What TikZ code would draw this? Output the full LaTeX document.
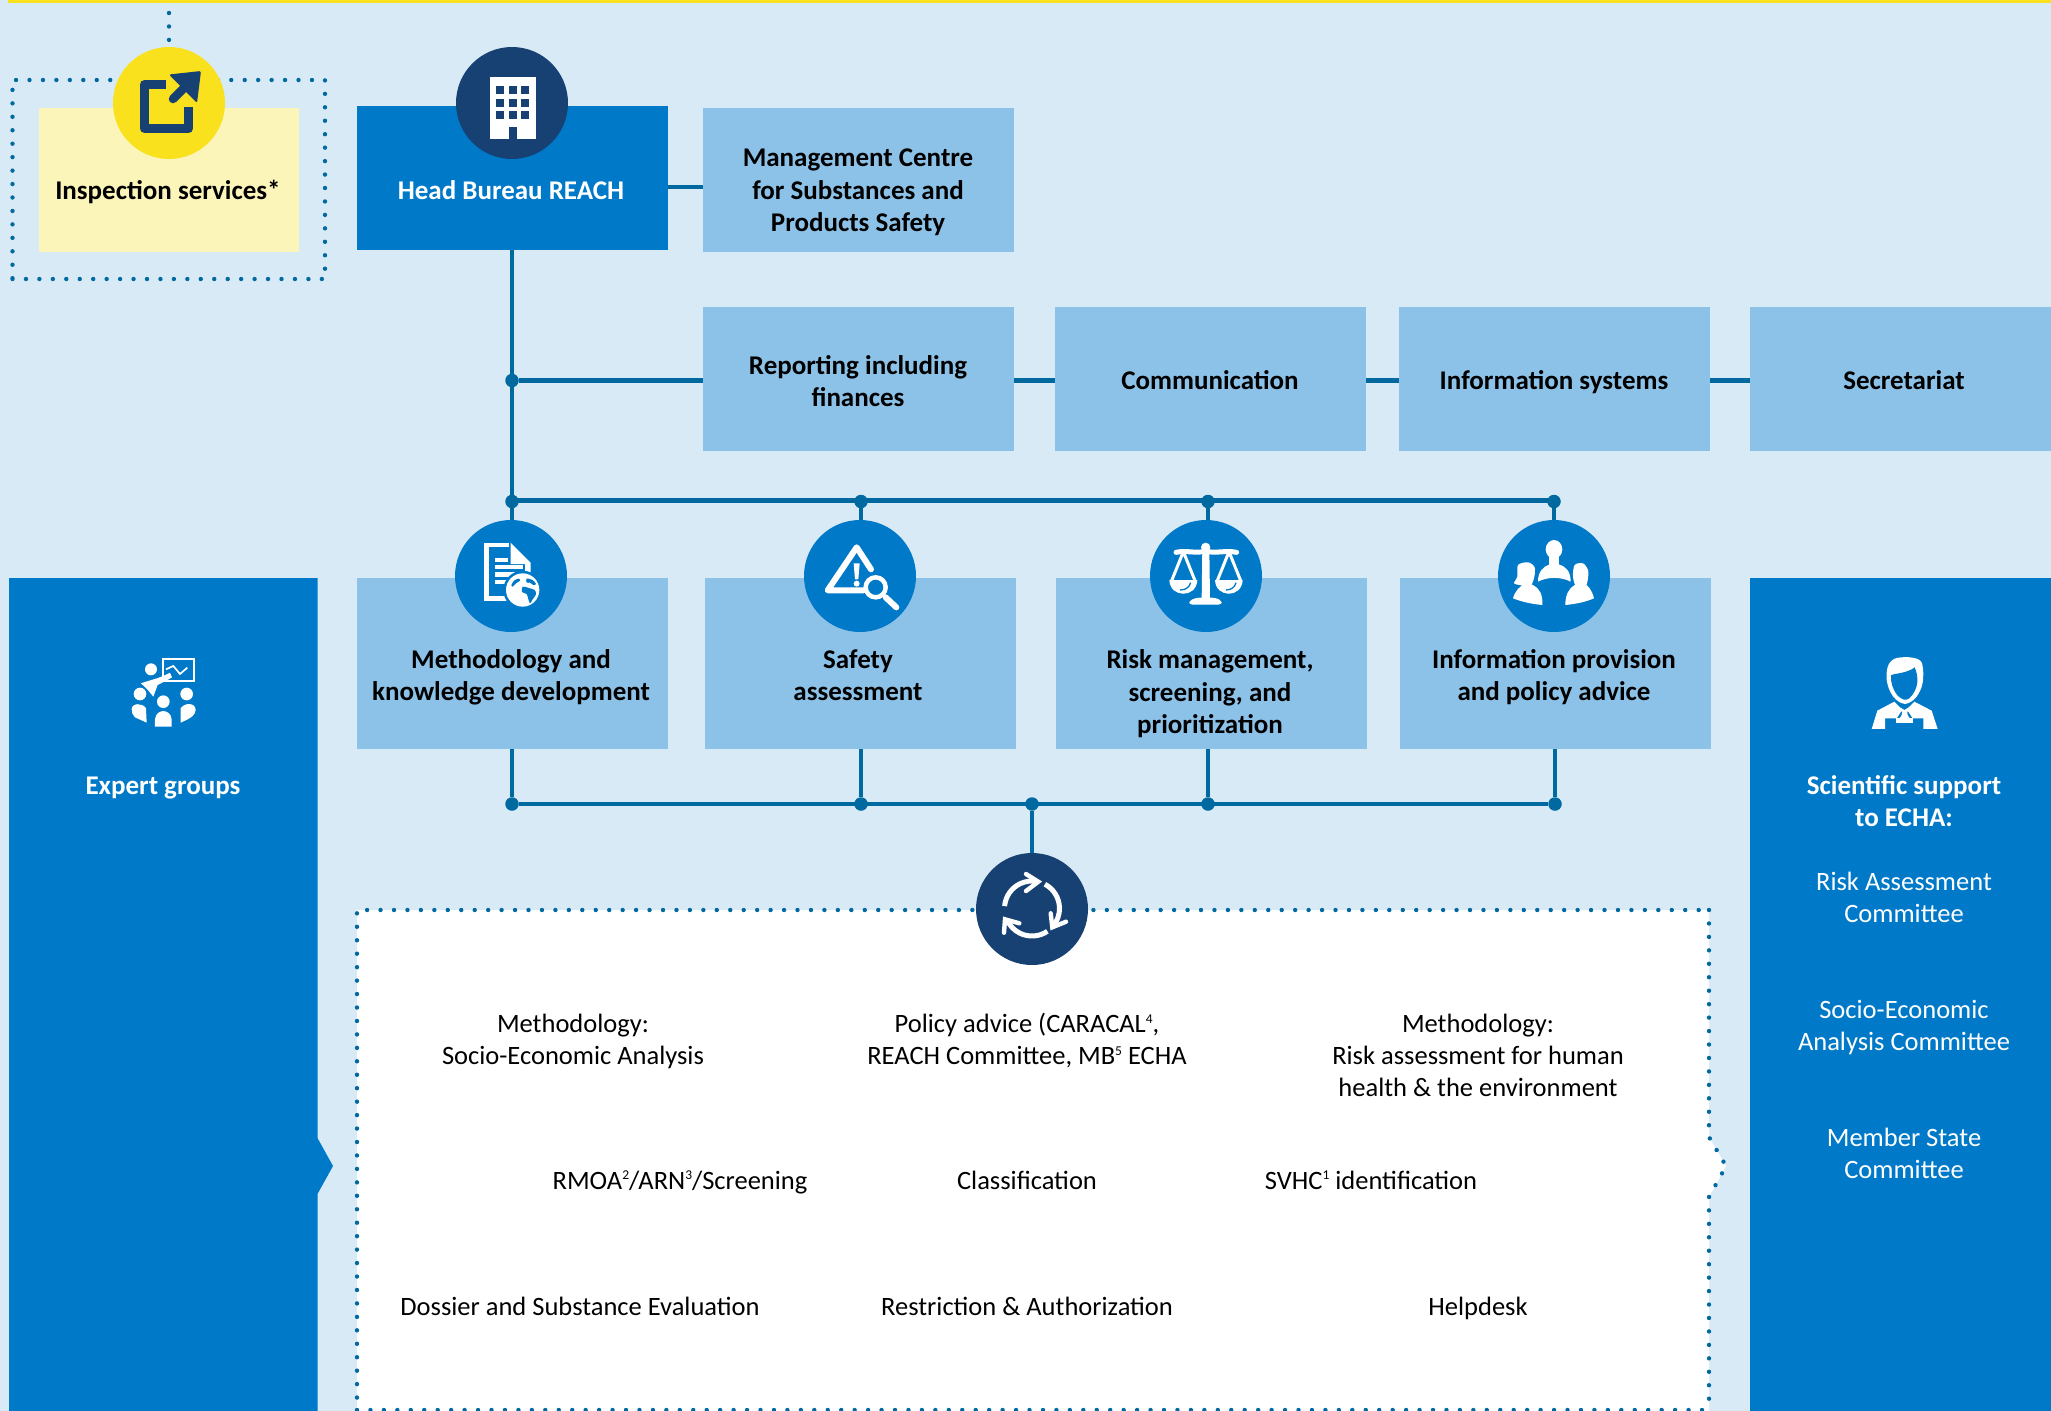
\documentclass[tikz,border=0pt]{standalone}
\usepackage{fontspec}
\setmainfont{Carlito}
\definecolor{bgblue}{HTML}{D9EAF7}
\definecolor{midblue}{HTML}{0079C8}
\definecolor{lightblue}{HTML}{8DC2E8}
\definecolor{navy}{HTML}{164172}
\definecolor{linkblue}{HTML}{00699F}
\definecolor{yel}{HTML}{F9E11E}
\definecolor{paleyel}{HTML}{FCF5B9}
\newcommand\suptxt[1]{\raisebox{9.5pt}{\fontsize{13.5}{13.5}\selectfont #1}}
\tikzset{
  boxnode/.style={rectangle,draw=none,inner sep=0pt,outer sep=0pt},
  lightbox/.style={boxnode,fill=lightblue},
  bold label/.style={inner sep=0pt,align=center,text=black,font=\fontsize{27}{32.3}\selectfont\bfseries,execute at begin node={\strut},execute at end node={\strut}},
  bold white/.style={bold label,text=white},
  plain label/.style={inner sep=0pt,align=center,text=black,font=\fontsize{26.5}{32}\selectfont,execute at begin node={\strut},execute at end node={\strut}},
  plain white/.style={plain label,text=white},
  bigdisc/.style={circle,inner sep=0pt,outer sep=0pt,minimum size=112pt},
  junction/.style={circle,fill=linkblue,inner sep=0pt,outer sep=0pt,minimum size=13.5pt},
  link/.style={draw=linkblue,line width=4.6pt},
  dotline/.style={draw=linkblue,line width=4.4pt,line cap=round,dash pattern=on 0pt off 13.45pt},
  iconscope/.style={x=0.3333pt,y=-0.3333pt}
}
\begin{document}
\begin{tikzpicture}[x=1pt,y=-1pt]
\useasboundingbox (0,0) rectangle (2051,1411);
\fill[bgblue] (0,0) rectangle (2051,1411);
\fill[yel] (8,0) rectangle (2051,3);

% side panels
\fill[midblue] (9,578) -- (317.5,578) -- (317.5,1138) -- (333,1166) -- (317.5,1194) -- (317.5,1411) -- (9,1411) -- cycle;
\fill[midblue] (1750,578) rectangle (2051,1411);

% white dotted area
\fill[white] (357,910) -- (1709,910) -- (1709,1137) -- (1726,1166) -- (1709,1197) -- (1709,1411) -- (357,1411) -- cycle;
\draw[dotline] (1709,910) -- (1709,1137) -- (1726,1166) -- (1709,1197) -- (1709,1411);
\draw[dotline] (357,1411) -- (357,910) -- (1709,910);
\draw[dotline] (357,1410) -- (1709,1410);

% inspection dotted frame
\node[boxnode,draw=linkblue,line width=4.4pt,line cap=round,dash pattern=on 0pt off 13.45pt,minimum width=312.5pt,minimum height=199pt] (inspframe) at (168.75,179.5) {};

% boxes
\node[boxnode,fill=paleyel,minimum width=260pt,minimum height=144pt] (insp) at (169,180) {};
\node[boxnode,fill=midblue,minimum width=311pt,minimum height=144pt] (head) at (512.5,178) {};
\node[lightbox,minimum width=311pt,minimum height=144pt] (mgmt) at (858,180) {};
\node[lightbox,minimum width=311pt,minimum height=144pt] (report) at (858,379) {};
\node[lightbox,minimum width=311pt,minimum height=144pt] (comm) at (1210.5,379) {};
\node[lightbox,minimum width=311pt,minimum height=144pt] (infosys) at (1554,379) {};
\node[lightbox,minimum width=301pt,minimum height=144pt] (secr) at (1900.5,379) {};
\node[lightbox,minimum width=311pt,minimum height=171pt] (meth) at (512.5,663.5) {};
\node[lightbox,minimum width=311pt,minimum height=171pt] (safety) at (860.5,663.5) {};
\node[lightbox,minimum width=311pt,minimum height=171pt] (risk) at (1211.5,663.5) {};
\node[lightbox,minimum width=311pt,minimum height=171pt] (provis) at (1555.5,663.5) {};

% junctions and discs (positions)
\node[junction] (jr) at (512,380.5) {};
\node[junction] (j1) at (512,501.5) {};
\node[junction] (j2) at (861,501.5) {};
\node[junction] (j3) at (1208,501.5) {};
\node[junction] (j4) at (1554,501.5) {};
\node[junction] (k1) at (512,804) {};
\node[junction] (k2) at (861,804) {};
\node[junction] (k3) at (1208,804) {};
\node[junction] (k4) at (1555,804) {};
\node[junction] (kc) at (1032,804) {};
\coordinate (hm) at (685,187);
\coordinate (topfree) at (169,13);
\coordinate (rowline) at (900,500.5);

\node[bigdisc] (dinsp) at (169,103) {};
\node[bigdisc] (dhead) at (512,103) {};
\node[bigdisc] (d1) at (511,576) {};
\node[bigdisc] (d2) at (860,576) {};
\node[bigdisc] (d3) at (1206,576) {};
\node[bigdisc] (d4) at (1554,576) {};
\node[bigdisc] (dc) at (1032,909) {};

% connectors
\draw[dotline] (topfree) -- (dinsp.north);
\draw[link] (head.east |- hm) -- (mgmt.west |- hm);
\draw[link] (head.south -| j1) -- (j1);
\draw[link] (jr) -- (report.west |- jr);
\draw[link] (report.east |- jr) -- (comm.west |- jr);
\draw[link] (comm.east |- jr) -- (infosys.west |- jr);
\draw[link] (infosys.east |- jr) -- (secr.west |- jr);
\draw[link] (j1 |- rowline) -- (j4 |- rowline);
\draw[link] (j1) -- (d1.north -| j1);
\draw[link] (j2) -- (d2.north -| j2);
\draw[link] (j3) -- (d3.north -| j3);
\draw[link] (j4) -- (d4.north);
\draw[link] (meth.south -| k1) -- (k1);
\draw[link] (safety.south -| k2) -- (k2);
\draw[link] (risk.south -| k3) -- (k3);
\draw[link] (provis.south -| k4) -- (k4);
\draw[link] (k1) -- (k4);
\draw[link] (kc) -- (dc.north);

% filled discs above connectors
\fill[yel] (dinsp) circle (56);
\fill[navy] (dhead) circle (56);
\fill[midblue] (d1) circle (56);
\fill[midblue] (d2) circle (56);
\fill[midblue] (d3) circle (56);
\fill[midblue] (d4) circle (56);
\fill[navy] (dc) circle (56);

% --- icons ---
% export icon
\draw[navy,line width=9pt,line join=round] (166,84.5) -- (144.5,84.5) -- (144.5,128.5) -- (188.5,128.5) -- (188.5,107);
\draw[navy,line width=8.5pt,line cap=round] (173,99) -- (190,82);
\fill[navy,rounded corners=2pt] (169,74.5) -- (201,71) -- (197,103) -- cycle;

% building icon
\fill[white] (490,77) rectangle (536,139);
\foreach \wx in {496.4,509,521.4}
  \foreach \wy in {86,98.7,111}
    \fill[navy] (\wx,\wy) rectangle ++(8,8);
\fill[navy] (509,127) rectangle (517,139);

% document + globe
\begin{scope}[shift={(470,530)},iconscope]
\draw[white,line width=4.5pt,line join=miter] (118,45) -- (49,45) -- (49,205) -- (115,205);
\fill[white] (122,38) -- (182,98) -- (182,130) -- (165,130) -- (165,102) -- (122,102) -- cycle;
\fill[white] (75,85) rectangle (115,97);
\fill[white] (75,105) rectangle (160,118);
\fill[white] (75,127) rectangle (140,140);
\fill[white] (75,150) rectangle (115,162);
\fill[midblue] (158,180) circle (58);
\fill[white] (158,180) circle (50);
\fill[midblue] plot[smooth cycle] coordinates {(158,170) (176,174) (194,180) (198,193) (188,208) (180,220) (174,204) (170,192) (156,186)};
\fill[midblue] plot[smooth cycle] coordinates {(170,146) (188,150) (198,162) (190,165) (180,158) (170,158)};
\fill[midblue] plot[smooth cycle] coordinates {(132,152) (146,146) (150,152) (138,160) (128,170) (124,166)};
\end{scope}

% warning + magnifier
\begin{scope}[shift={(815,530)},iconscope]
\draw[white,line width=6pt,line join=round,line cap=round] (145,181) -- (38,181) -- (125,52) -- (168,118);
\fill[white] (116,100) -- (134,100) -- (130,148) -- (120,148) -- cycle;
\fill[white] (125,161) circle (9);
\draw[white,line width=4.5pt] (182,172) circle (30);
\draw[white,line width=6pt,line cap=round] (212,202) -- (244,232);
\end{scope}

% scales
\begin{scope}[shift={(1160,530)},iconscope]
\fill[white] (127,55) -- (148,55) -- (150,205) -- (125,205) -- cycle;
\fill[white] (137,52) circle (14);
\fill[white,rounded corners=3pt] (88,224) -- (88,212) -- (110,203) -- (165,203) -- (185,212) -- (185,224) -- cycle;
\draw[white,line width=5pt,line cap=round] (48,67) .. controls (80,60) and (110,72) .. (137,63) .. controls (165,72) and (195,60) .. (230,67);
\draw[white,line width=3pt,line join=round] (35,152) -- (70,65) -- (105,152);
\draw[white,line width=3pt,line join=round] (172,152) -- (207,65) -- (242,152);
\fill[white] (28,150) .. controls (30,205) and (110,205) .. (112,150) -- cycle;
\fill[white] (165,150) .. controls (167,205) and (246,205) .. (248,150) -- cycle;
\draw[midblue,line width=1.3pt] (60,180) .. controls (80,180) and (88,170) .. (92,158);
\draw[midblue,line width=1.3pt] (198,180) .. controls (215,180) and (225,170) .. (228,158);
\end{scope}

% three people
\begin{scope}[shift={(1508,530)},iconscope]
\fill[white] (138,58) ellipse (25 and 28);
\fill[white] (122,75) rectangle (154,110);
\fill[white] (90,155) .. controls (90,125) and (105,110) .. (125,103) -- (152,103) .. controls (175,110) and (188,125) .. (188,155) .. controls (160,140) and (118,140) .. (90,155) -- cycle;
\fill[white] plot[smooth cycle] coordinates {(30,105) (60,97) (80,112) (78,145) (65,170) (35,165) (18,160) (28,140)};
\fill[white] (15,205) .. controls (22,180) and (40,165) .. (55,158) -- (75,165) .. controls (95,175) and (105,195) .. (103,225) .. controls (70,222) and (40,215) .. (15,205) -- cycle;
\fill[white] plot[smooth cycle] coordinates {(200,105) (225,100) (240,120) (240,145) (232,170) (205,170) (195,140)};
\fill[white] (258,205) .. controls (252,180) and (240,165) .. (225,158) -- (200,165) .. controls (182,175) and (172,195) .. (172,225) .. controls (205,222) and (235,215) .. (258,205) -- cycle;
\end{scope}

% presenter + group
\begin{scope}[shift={(90,630)},iconscope]
\draw[white,line width=1.7pt] (220,87) rectangle (312,153);
\draw[white,line width=1.7pt] (228,118) -- (250,108) -- (270,132) -- (292,113);
\fill[white] (183,118) circle (18);
\fill[white] (153,160) .. controls (180,150) and (210,145) .. (240,128) -- (246,142) .. controls (225,155) and (212,160) .. (203,165) -- (190,200) -- (172,178) -- cycle;
\fill[white] (150,192) circle (19);
\fill[white] (220,215) circle (19);
\fill[white] (290,192) circle (19);
\fill[white] (125,238) .. controls (125,218) and (158,218) .. (168,235) -- (170,278) -- (135,262) .. controls (128,255) and (125,248) .. (125,238) -- cycle;
\fill[white] (195,290) -- (195,268) .. controls (198,235) and (242,235) .. (245,268) -- (245,290) -- cycle;
\fill[white] (272,235) .. controls (285,216) and (317,218) .. (317,240) .. controls (315,255) and (308,262) .. (272,278) -- cycle;
\end{scope}

% scientist
\begin{scope}[shift={(1840,630)},iconscope]
\fill[white] (140,150) .. controls (137,110) and (148,90) .. (170,84) .. controls (200,78) and (242,82) .. (246,100) .. controls (252,125) and (250,140) .. (248,158) .. controls (242,190) and (222,218) .. (195,222) .. controls (168,218) and (146,190) .. (140,150) -- cycle;
\fill[midblue] (153,135) .. controls (170,130) and (205,128) .. (224,112) .. controls (236,140) and (238,175) .. (208,205) .. controls (197,214) and (185,208) .. (173,197) .. controls (158,178) and (151,155) .. (153,135) -- cycle;
\fill[white] (95,297) -- (112,242) -- (163,215) -- (180,232) -- (193,240) -- (206,232) -- (223,215) -- (275,242) -- (293,297) -- (250,297) -- (250,265) -- (218,265) -- (205,245) -- (183,245) -- (170,265) -- (135,265) -- (135,297) -- cycle;
\fill[white] (168,265) -- (220,265) -- (220,278) -- (168,278) -- cycle;
\fill[white] (187,242) -- (201,242) -- (203,255) -- (212,270) -- (176,270) -- (185,255) -- cycle;
\end{scope}

% recycle
\begin{scope}
\draw[white,line width=5pt] (1032,908.5) ++(185:27.5) arc[start angle=185,end angle=281,radius=27.5];
\draw[white,line width=5pt] (1032,908.5) ++(298:27.5) arc[start angle=298,end angle=401,radius=27.5];
\draw[white,line width=5pt] (1032,908.5) ++(56:27.5) arc[start angle=56,end angle=156,radius=27.5];
\draw[white,line width=4.4pt,line cap=round,line join=miter] (1026,874) -- (1038.3,881.7) -- (1026,891);
\draw[white,line width=4.4pt,line cap=round,line join=miter] (1050.7,913.3) -- (1052.3,927.3) -- (1066,921.7);
\draw[white,line width=4.4pt,line cap=round,line join=miter] (1004,932.7) -- (1005,919.3) -- (1019.3,923.3);
\end{scope}

% --- text ---
\node[bold label] (t1) at (168,193) {Inspection services*};
\node[bold white] (t2) at (511,193) {Head Bureau REACH};
\node[bold label] (t3) at (858,195) {Management Centre\\for Substances and\\Products Safety};
\node[bold label] (t4) at (858,385.5) {Reporting including\\finances};
\node[bold label] (t5) at (1210,383) {Communication};
\node[bold label] (t6) at (1554,383) {Information systems};
\node[bold label] (t7) at (1904,383) {Secretariat};
\node[bold label] (t8) at (511,680) {Methodology and\\knowledge development};
\node[bold label] (t9) at (858,680) {Safety\\assessment};
\node[bold label] (t10) at (1210,696.5) {Risk management,\\screening, and\\prioritization};
\node[bold label] (t11) at (1554,680) {Information provision\\and policy advice};
\node[bold white] (t12) at (163,788) {Expert groups};
\node[bold white] (t13) at (1904,806) {Scientific support\\to ECHA:};
\node[plain white] (t14) at (1904,902) {Risk Assessment\\Committee};
\node[plain white] (t15) at (1904,1030) {Socio-Economic\\Analysis Committee};
\node[plain white] (t16) at (1904,1158.5) {Member State\\Committee};
\node[plain label] (t17) at (573,1044) {Methodology:\\Socio-Economic Analysis};
\node[plain label] (t18) at (1027,1044) {Policy advice (CARACAL\suptxt{4},\\REACH Committee, MB\suptxt{5} ECHA};
\node[plain label] (t19) at (1478,1060) {Methodology:\\Risk assessment for human\\health \& the environment};
\node[plain label] (t20) at (680,1183) {RMOA\suptxt{2}/ARN\suptxt{3}/Screening};
\node[plain label] (t21) at (1027,1183) {Classification};
\node[plain label] (t22) at (1371,1183) {SVHC\suptxt{1} identification};
\node[plain label] (t23) at (580,1309) {Dossier and Substance Evaluation};
\node[plain label] (t24) at (1027,1309) {Restriction \& Authorization};
\node[plain label] (t25) at (1478,1309) {Helpdesk};
\end{tikzpicture}
\end{document}
